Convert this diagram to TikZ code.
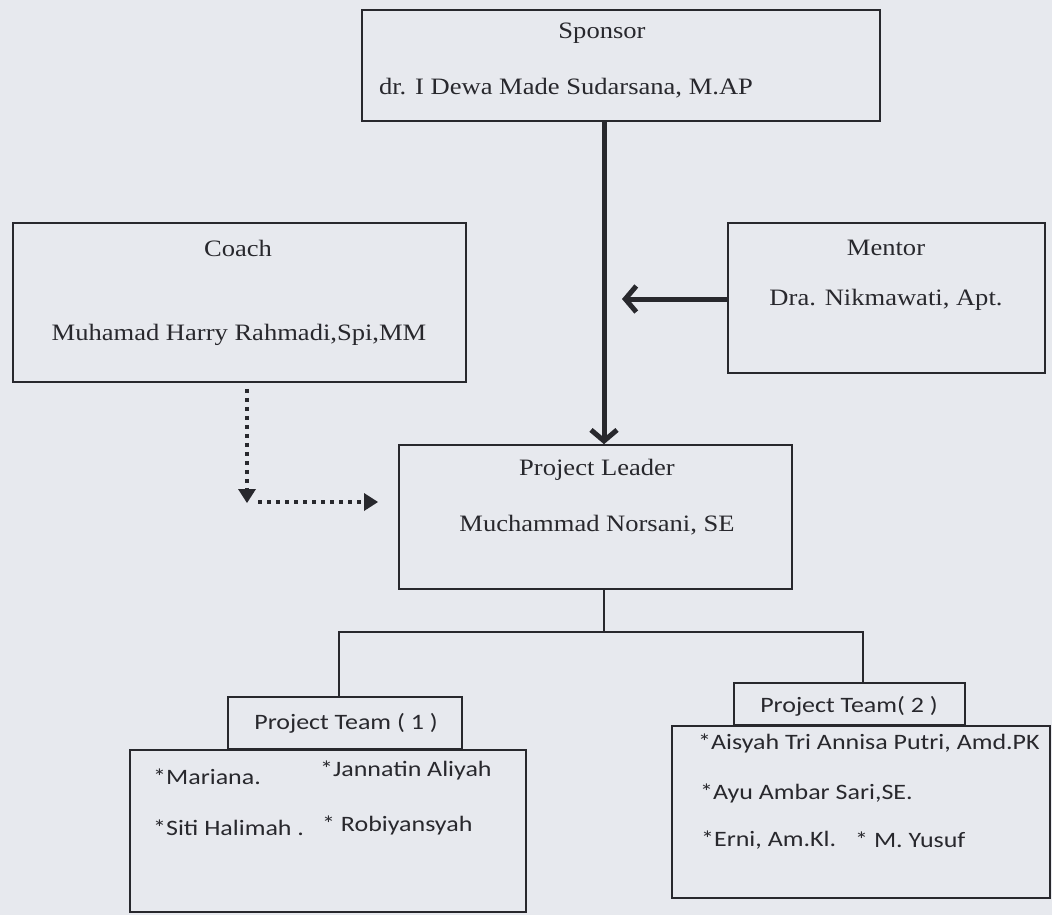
\documentclass[tikz,border=0pt]{standalone}
\usepackage{fontspec}
\setmainfont{Liberation Serif}
\newfontfamily\serifbox[FakeStretch=1.13]{Liberation Serif}
\newfontfamily\sansbox[FakeStretch=1.18]{Carlito}
\usetikzlibrary{arrows.meta}
\definecolor{paper}{RGB}{231,233,238}
\definecolor{ink}{RGB}{40,40,45}
\begin{document}
\begin{tikzpicture}[x=1pt,y=-1pt,
  box/.style={draw=ink, line width=1.6pt, minimum width=#1, inner sep=0pt},
  stxt/.style={text=ink, font=\serifbox\fontsize{23.5}{27}\selectfont, inner sep=0pt},
  ttxt/.style={text=ink, font=\sansbox\fontsize{22}{26}\selectfont, inner sep=0pt},
  thick arrow/.style={draw=ink, line width=5pt, -{Straight Barb[length=11pt,width=26pt,line width=5pt]}},
  dot arrow/.style={draw=ink, line width=4pt, dash pattern=on 4pt off 5pt, -{Triangle[length=14pt,width=18pt,line width=0pt]}},
  tree/.style={draw=ink, line width=1.4pt}]
\fill[paper] (0,0) rectangle (1052,915);
\useasboundingbox (0,0) rectangle (1052,915);

% boxes
\node[box=518pt, minimum height=111pt] (sponsor) at (621,65.5) {};
\node[box=453pt, minimum height=159pt] (coach) at (239.5,302.5) {};
\node[box=317pt, minimum height=150pt] (mentor) at (886.5,298) {};
\node[box=393pt, minimum height=144pt] (leader) at (595.5,517) {};
\node[box=396pt, minimum height=162pt] (body1) at (328,831) {};
\node[box=234pt, minimum height=52pt] (tab1) at (345,723) {};
\node[box=378pt, minimum height=172pt] (body2) at (861,812) {};
\node[box=231pt, minimum height=42pt] (tab2) at (849.5,704) {};

% texts
\node[stxt] (t1) at (602,33) {Sponsor};
\node[stxt] (t2) at (566,88) {dr. I Dewa Made Sudarsana, M.AP};
\node[stxt] (t3) at (238,248) {Coach};
\node[stxt] (t4) at (239,335) {Muhamad Harry Rahmadi,Spi,MM};
\node[stxt] (t5) at (886,248) {Mentor};
\node[stxt] (t6) at (886,300) {Dra. Nikmawati, Apt.};
\node[stxt] (t7) at (597,470) {Project Leader};
\node[stxt] (t8) at (597,525) {Muchammad Norsani, SE};

\node[ttxt] (p1) at (346,723) {Project Team ( 1 )};
\node[ttxt, anchor=west] (m1) at (153,777) {*Mariana.};
\node[ttxt, anchor=west] (m2) at (320,770) {*Jannatin Aliyah};
\node[ttxt, anchor=west] (m3) at (153,828) {*Siti Halimah .};
\node[ttxt, anchor=west] (m4) at (322,825) {* Robiyansyah};

\node[ttxt] (p2) at (849,706) {Project Team( 2 )};
\node[ttxt, anchor=west] (n1) at (698,743) {*Aisyah Tri Annisa Putri, Amd.PK};
\node[ttxt, anchor=west] (n2) at (700,793) {*Ayu Ambar Sari,SE.};
\node[ttxt, anchor=west] (n3) at (701,840) {*Erni, Am.Kl.};
\node[ttxt, anchor=west] (n4) at (855,840) {* M. Yusuf};

% coordinates
\coordinate (mainx) at (604,0);
\coordinate (mtip) at (622,299);
\coordinate (cdown) at (247,503);
\coordinate (cstart) at (258,502);
\coordinate (ctip) at (378,502);
\coordinate (junction) at (604,632);
\coordinate (lx) at (339,0);
\coordinate (rx) at (863,0);

% connectors
\draw[thick arrow] (sponsor.south -| mainx) -- (leader.north -| mainx);
\draw[thick arrow] (mentor.west |- mtip) -- (mtip);
\draw[dot arrow] (coach.south -| cdown) ++(0,6) -- (cdown);
\draw[dot arrow] (cstart) -- (ctip);
\draw[tree] (leader.south -| mainx) -- (junction);
\draw[tree] (tab1.north -| lx) |- (junction) -| (tab2.north -| rx);
\end{tikzpicture}
\end{document}
